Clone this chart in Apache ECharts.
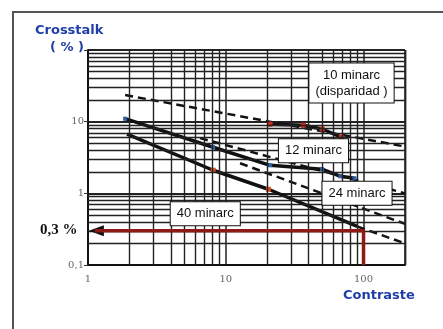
<!DOCTYPE html>
<html>
<head>
<meta charset="utf-8">
<script src="https://cdn.jsdelivr.net/npm/echarts@6.0.0/dist/echarts.min.js"></script>
<style>
  html, body { margin: 0; padding: 0; background: #fff; }
  #chart { width: 443px; height: 329px; }
</style>
</head>
<body>
<div id="chart"></div>
<script>
// values (contrast vs crosstalk %)
const xTicks = [1, 10, 100];
const yTicks = [0.1, 1, 10];

// 10 minarc (disparidad)
const model10X = [1.86, 200];
const model10Y = [23.5, 4.5];
const data10X = [21, 36.6, 50, 69];
const data10Y = [9.2, 8.9, 7.9, 6.1];

// 12 minarc
const data12X = [1.86, 8.1, 21, 50, 68, 86];
const data12Y = [11, 4.4, 2.46, 2.17, 1.73, 1.62];
const model12X = [6.5, 200];
const model12Y = [5.9, 1.0];

// 24 minarc
const model24X = [12.7, 200];
const model24Y = [2.63, 0.375];

// 40 minarc
const data40X = [1.92, 8.1, 20.4, 90];
const data40Y = [6.7, 2.1, 1.14, 0.345];
const model40X = [90, 200];
const model40Y = [0.345, 0.2];

// 0.3 % at contrast 100
const readX = 100;
const readY = 0.3;

const zip = (xs, ys) => xs.map((x, i) => [x, ys[i]]);

// log minor grid lines
const minorX = [], minorY = [];
[1, 10, 100].forEach(d => { for (let k = 2; k <= 9; k++) if (d * k <= 200) minorX.push(d * k); });
minorX.push(200);
[0.1, 1, 10].forEach(d => { for (let k = 2; k <= 9; k++) minorY.push(+(d * k).toFixed(2)); });

const chart = echarts.init(document.getElementById('chart'));

const axisLabelFont = { fontFamily: 'DejaVu Serif', fontSize: 10, color: '#666' };
const boxLabel = (text) => ({
  show: true,
  formatter: text,
  position: 'inside',
  backgroundColor: '#fff',
  borderColor: '#111',
  borderWidth: 1,
  padding: [4, 6, 3, 6],
  fontFamily: 'Liberation Sans',
  fontSize: 13,
  lineHeight: 16,
  color: '#111'
});

const solid = { color: '#111', width: 3.5 };
const dashed = { color: '#111', width: 2.5, type: [8, 5] };

const option = {
  animation: false,
  grid: { left: 88, right: 38, top: 50, bottom: 64 },
  xAxis: {
    type: 'log',
    min: 1,
    max: 200,
    axisLine: { show: true, lineStyle: { color: '#111', width: 2 } },
    axisTick: { show: false },
    axisLabel: Object.assign({
      margin: 9,
      formatter: v => (xTicks.indexOf(Math.round(v)) >= 0 ? String(Math.round(v)) : '')
    }, axisLabelFont),
    splitLine: { show: true, lineStyle: { color: '#222', width: 1.5 } }
  },
  yAxis: {
    type: 'log',
    min: 0.1,
    max: 100,
    axisLine: { show: true, lineStyle: { color: '#111', width: 2 } },
    axisTick: { show: true, length: 4, lineStyle: { color: '#333' } },
    axisLabel: Object.assign({
      margin: 4,
      formatter: v => {
        const r = Math.round(v * 10) / 10;
        if (yTicks.indexOf(r) < 0) return '';
        return String(r).replace('.', ',');
      }
    }, axisLabelFont),
    splitLine: { show: true, lineStyle: { color: '#222', width: 2 } }
  },
  graphic: [
    { type: 'rect', shape: { x: 13, y: 12, width: 440, height: 330 },
      style: { fill: 'none', stroke: '#555', lineWidth: 2 }, silent: true },
    { type: 'text', left: 35, top: 24,
      style: { text: 'Crosstalk', fill: '#1f3ea8', font: 'bold 13px "DejaVu Sans"' } },
    { type: 'text', left: 50, top: 41,
      style: { text: '( % )', fill: '#1f3ea8', font: 'bold 13px "DejaVu Sans"' } },
    { type: 'text', left: 343, top: 289,
      style: { text: 'Contraste', fill: '#1f3ea8', font: 'bold 13px "DejaVu Sans"' } },
    { type: 'text', left: 40, top: 223,
      style: { text: '0,3 %', fill: '#111', font: 'bold 15px "Liberation Serif"' } }
  ],
  series: [
    {
      name: 'grid',
      type: 'line',
      data: [],
      z: 1,
      silent: true,
      markLine: {
        silent: true,
        symbol: ['none', 'none'],
        label: { show: false },
        lineStyle: { color: '#222', width: 1.4, type: 'solid' },
        data: minorX.map(v => ({ xAxis: v })).concat(minorY.map(v => ({ yAxis: v })))
      }
    },
    {
      name: '10 minarc model',
      type: 'line',
      data: zip(model10X, model10Y),
      showSymbol: false,
      lineStyle: dashed,
      z: 3,
      markPoint: {
        symbol: 'rect', symbolSize: 0,
        data: [{ coord: [81.8, 34.5], label: boxLabel('10 minarc\n(disparidad )') }]
      }
    },
    {
      name: '10 minarc',
      type: 'line',
      data: zip(data10X, data10Y),
      symbol: 'rect',
      symbolSize: 5,
      itemStyle: { color: '#d42a1c' },
      lineStyle: solid,
      z: 4
    },
    {
      name: '12 minarc',
      type: 'line',
      data: zip(data12X, data12Y),
      symbol: 'rect',
      symbolSize: 4,
      itemStyle: { color: '#2d5fa6' },
      lineStyle: solid,
      z: 4,
      markPoint: {
        symbol: 'rect', symbolSize: 0,
        data: [{ coord: [43.3, 3.93], label: boxLabel('12 minarc') }]
      }
    },
    {
      name: '12 minarc model',
      type: 'line',
      data: zip(model12X, model12Y),
      showSymbol: false,
      lineStyle: dashed,
      z: 3
    },
    {
      name: '24 minarc model',
      type: 'line',
      data: zip(model24X, model24Y),
      showSymbol: false,
      lineStyle: dashed,
      z: 3,
      markPoint: {
        symbol: 'rect', symbolSize: 0,
        data: [{ coord: [89.7, 1.0], label: boxLabel('24 minarc') }]
      }
    },
    {
      name: '40 minarc',
      type: 'line',
      data: zip(data40X, data40Y),
      symbol: 'rect',
      symbolSize: (v, p) => (p.dataIndex === 1 || p.dataIndex === 2 ? 5 : 0),
      itemStyle: { color: '#d8501e' },
      lineStyle: solid,
      z: 4,
      markPoint: {
        symbol: 'rect', symbolSize: 0,
        data: [{ coord: [7.1, 0.52], label: boxLabel('40 minarc') }]
      }
    },
    {
      name: '40 minarc model',
      type: 'line',
      data: zip(model40X, model40Y),
      showSymbol: false,
      lineStyle: dashed,
      z: 3
    },
    {
      name: 'lectura',
      type: 'line',
      data: [[readX, 0.1], [readX, readY], [1.12, readY]],
      showSymbol: false,
      lineStyle: { color: '#8e1a16', width: 3.5 },
      z: 5,
      markPoint: {
        symbol: 'triangle',
        symbolSize: [11, 15],
        symbolRotate: 90,
        itemStyle: { color: '#111' },
        label: { show: false },
        data: [{ coord: [1.15, readY] }]
      }
    }
  ]
};

chart.setOption(option);
</script>
</body>
</html>
